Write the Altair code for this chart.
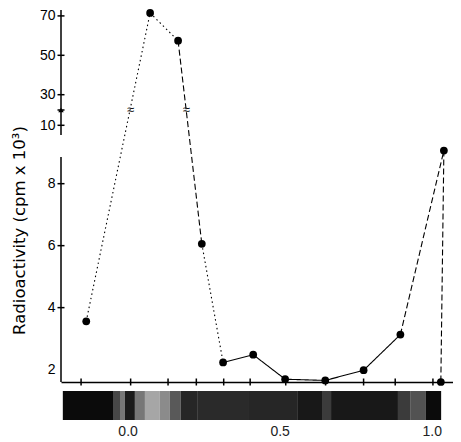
import altair as alt
import pandas as pd

# Rf of each fraction and its count (cpm x 10^3)
rf = [-0.136, 0.074, 0.166, 0.244, 0.314, 0.413, 0.518, 0.650, 0.776, 0.897, 1.040, 1.030]
cpm = [3.56, 71.5, 57.4, 6.06, 2.23, 2.48, 1.69, 1.65, 1.98, 3.13, 9.08, 1.6]
seg_style = ["dot", "dot", "dash", "dot", "solid", "solid", "solid", "solid", "solid", "dash", "dash"]

# fraction marks along the x axis
frac_rf = [-0.153, 0.010, 0.133, 0.226, 0.316, 0.403, 0.520, 0.651, 0.776, 0.880, 1.004]

y_labels = [2, 4, 6, 8, 10, 30, 50, 70]
y_cross = [4, 6, 8, 10, 20, 30, 50, 70]

# break marks where the lines pass the axis break
brk_rf = [0.010, 0.193]
brk_val = [20, 20]

# gel strip under the axis: band edges (Rf) and lightness
strip_edges = [-0.213, -0.048, -0.025, -0.009, 0.024, 0.057, 0.106, 0.139, 0.175,
               0.231, 0.396, 0.560, 0.642, 0.669, 0.889, 0.929, 0.981, 1.031]
strip_shade = [0.03, 0.3, 0.5, 0.1, 0.5, 0.68, 0.58, 0.38, 0.15,
               0.17, 0.15, 0.08, 0.25, 0.08, 0.25, 0.35, 0.03]

X_MIN, X_MAX = -0.219, 1.070
Y_BASE = 1.6

xs = alt.Scale(domain=[X_MIN, X_MAX], nice=False, zero=False)
# broken axis: piecewise scale, lower part 1.6-9, upper part 10-73
ys = alt.Scale(domain=[Y_BASE, 9.0, 10, 30, 73], range=[372, 142.7, 115.3, 84.7, 0],
               nice=False, zero=False)

xaxis = alt.Axis(values=[0.0, 0.5, 1.0], format=".1f", grid=False, ticks=False,
                 domainColor="black", domainWidth=1.5, labelPadding=42,
                 labelFont="Liberation Sans", labelFontSize=14, labelColor="#222")
yaxis = alt.Axis(values=y_labels, grid=False, ticks=False, domain=False,
                 labelPadding=6, labelFont="Liberation Sans", labelFontSize=14,
                 labelColor="black", title="Radioactivity (cpm x 10³)",
                 titleFont="DejaVu Sans", titleFontSize=16.5, titleFontWeight="normal",
                 titleColor="black", titlePadding=12, titleY=220)


def X(field):
    return alt.X(field, type="quantitative", scale=xs, axis=xaxis, title=None)


def Y(field):
    return alt.Y(field, type="quantitative", scale=ys, axis=yaxis)


pts = pd.DataFrame({"rf": rf, "cpm": cpm})
segs = pd.DataFrame({"rf": rf[:-1], "cpm": cpm[:-1], "rf2": rf[1:], "cpm2": cpm[1:],
                     "style": seg_style})
axis_parts = pd.DataFrame({"x": [X_MIN, X_MIN], "lo": [Y_BASE, 9.65], "hi": [8.86, 73]})
ycross = pd.DataFrame({"x": [X_MIN] * len(y_cross), "v": y_cross})
xcross = pd.DataFrame({"rf": frac_rf, "v": [Y_BASE] * len(frac_rf)})
brk = pd.DataFrame({"rf": brk_rf, "v": brk_val})
strip = pd.DataFrame({"a": strip_edges[:-1], "b": strip_edges[1:], "shade": strip_shade,
                      "lo": 0, "hi": 1})

axis_lines = alt.Chart(axis_parts).mark_rule(color="black", strokeWidth=1.5).encode(
    x=X("x"), y=Y("lo"), y2="hi")

y_marks = alt.Chart(ycross).mark_point(shape="M-1,0H1", size=49, filled=False,
                                       color="black", strokeWidth=1.5, opacity=1).encode(
    x=X("x"), y=Y("v"))

x_marks = alt.Chart(xcross).mark_point(shape="M0,-1V1", size=49, filled=False,
                                       color="black", strokeWidth=1.5, opacity=1).encode(
    x=X("rf"), y=Y("v"))

axis_blob = alt.Chart(brk.head(1)).mark_point(shape="triangle-up", size=30, filled=True,
                                              color="black", opacity=1).encode(
    x=alt.X("x:Q", scale=xs, axis=xaxis, title=None), y=Y("v")
).transform_calculate(x=str(X_MIN))

lines = alt.Chart(segs).mark_rule(color="black", strokeWidth=1.1).encode(
    x=X("rf"), x2="rf2", y=Y("cpm"), y2="cpm2",
    strokeDash=alt.StrokeDash("style:N", legend=None,
                              scale=alt.Scale(domain=["solid", "dash", "dot"],
                                              range=[[1, 0], [6, 3], [1.5, 3]])))

breaks = alt.Chart(brk).mark_text(text="≈", fontSize=13, color="black").encode(
    x=X("rf"), y=Y("v"))

dots = alt.Chart(pts).mark_circle(size=60, color="black", opacity=1).encode(
    x=X("rf"), y=Y("cpm"))

main = alt.layer(axis_lines, y_marks, x_marks, axis_blob, lines, breaks, dots)

gel = alt.Chart(strip).mark_rect().encode(
    x=X("a"), x2="b",
    y=alt.Y("lo:Q", scale=alt.Scale(domain=[0, 1], range=[381, 410]), axis=None),
    y2="hi",
    color=alt.Color("shade:Q", legend=None,
                    scale=alt.Scale(domain=[0, 1], range=["black", "white"])))

chart = alt.layer(main, gel).resolve_scale(y="independent").properties(
    width=392, height=372,
    padding={"left": 3, "top": 0, "right": 0, "bottom": 0},
    background="white",
).configure_view(stroke=None)

chart.save("out.html", embed_options={"renderer": "svg", "actions": False})
